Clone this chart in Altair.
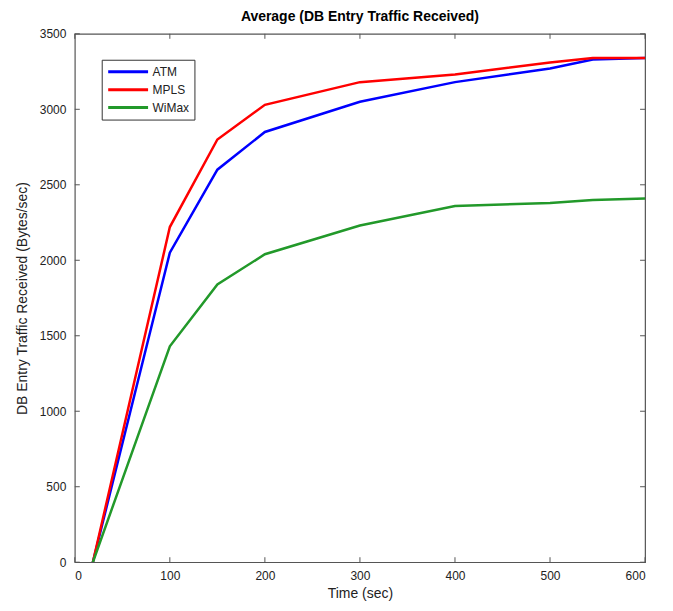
import altair as alt
import pandas as pd

time_s = [19, 100, 150, 200, 300, 400, 500, 545, 600]
atm = [0, 2050, 2600, 2850, 3050, 3180, 3270, 3330, 3340]
mpls = [0, 2220, 2800, 3030, 3180, 3230, 3310, 3340, 3340]
wimax = [0, 1430, 1840, 2040, 2230, 2360, 2380, 2400, 2410]
series_names = ["ATM", "MPLS", "WiMax"]
series_colors = ["#0000FF", "#FF0000", "#22992A"]
x_ticks = [0, 100, 200, 300, 400, 500, 600]
y_ticks = [0, 500, 1000, 1500, 2000, 2500, 3000, 3500]

rows = []
for name, vals in zip(series_names, [atm, mpls, wimax]):
    for t, v in zip(time_s, vals):
        rows.append({"t": t, "v": v, "s": name})
df = pd.DataFrame(rows)

W, H = 572, 530
FONT = "Liberation Sans"
xs = alt.Scale(domain=[0, 600], nice=False, zero=False)
ys = alt.Scale(domain=[0, 3500], nice=False, zero=False)

lines = alt.Chart(df).mark_line(strokeWidth=2.5, clip=True).encode(
    x=alt.X("t:Q", scale=xs, title="Time (sec)",
            axis=alt.Axis(values=x_ticks, tickSize=0, domain=False, grid=False, format="d",
                          labelPadding=8, titlePadding=5)),
    y=alt.Y("v:Q", scale=ys, title="DB Entry Traffic Received (Bytes/sec)",
            axis=alt.Axis(values=y_ticks, tickSize=0, domain=False, grid=False, format="d",
                          labelPadding=9, titlePadding=10)),
    color=alt.Color("s:N", scale=alt.Scale(domain=series_names, range=series_colors),
                    legend=alt.Legend(title=None, orient="none", legendX=27, legendY=26,
                                      symbolType="stroke", symbolSize=1600, symbolStrokeWidth=3,
                                      strokeColor="#333", padding=5, fillColor="white",
                                      labelFontSize=12, labelFont=FONT, rowPadding=4,
                                      clipHeight=14, labelOffset=3,
                                      labelColor="#222")),
)

xt = pd.DataFrame({"t": x_ticks})
yt = pd.DataFrame({"v": y_ticks})
tick_color = "#555"
bt = alt.Chart(xt).mark_rule(color=tick_color).encode(
    x=alt.X("t:Q", scale=xs), y=alt.value(H), y2=alt.value(H - 5))
tt = alt.Chart(xt).mark_rule(color=tick_color).encode(
    x=alt.X("t:Q", scale=xs), y=alt.value(0), y2=alt.value(5))
lt = alt.Chart(yt).mark_rule(color=tick_color).encode(
    y=alt.Y("v:Q", scale=ys), x=alt.value(0), x2=alt.value(5))
rt = alt.Chart(yt).mark_rule(color=tick_color).encode(
    y=alt.Y("v:Q", scale=ys), x=alt.value(W), x2=alt.value(W - 5))

chart = alt.layer(bt, tt, lt, rt, lines).properties(
    width=W, height=H,
    title=alt.Title("Average (DB Entry Traffic Received)", font=FONT, fontSize=14,
                    fontWeight="bold", offset=4, anchor="middle", color="#000"),
    padding={"left": 67, "top": 25, "right": 20, "bottom": 40},
    autosize=alt.AutoSizeParams(type="none"),
    background="white",
).configure_view(stroke="#555", strokeWidth=1.2).configure_axis(
    labelFont=FONT, labelFontSize=12, labelColor="#222",
    titleFont=FONT, titleFontSize=14, titleFontWeight="normal", titleColor="#222",
)

chart.save("out.html", embed_options={"renderer": "svg", "actions": False})
